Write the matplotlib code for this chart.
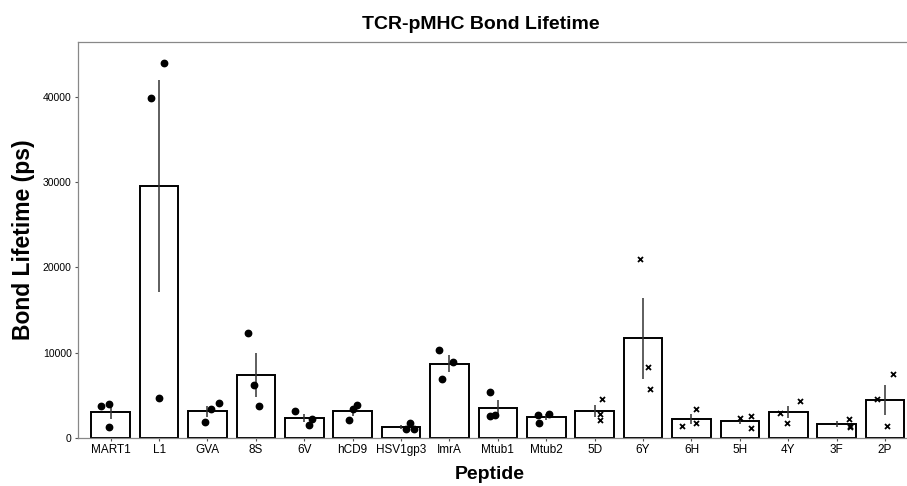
import numpy as np
import matplotlib
matplotlib.use("Agg")
import matplotlib.pyplot as plt

plt.rcParams['font.family'] = ['Liberation Sans', 'DejaVu Sans']

peptides = ["MART1", "L1", "GVA", "8S", "6V", "hCD9", "HSV1gp3", "ImrA", "Mtub1",
            "Mtub2", "5D", "6Y", "6H", "5H", "4Y", "3F", "2P"]

# three replicate lifetimes (ps) per peptide
reps = [
    [3790, 4030, 1290],
    [39900, 44050, 4700],
    [1910, 3370, 4070],
    [12360, 6180, 3720],
    [3130, 2230, 1490],
    [2110, 3440, 3910],
    [1090, 1800, 1020],
    [10330, 8960, 6890],
    [5360, 2580, 2740],
    [2700, 2850, 1720],
    [4580, 2780, 2110],
    [8330, 5710, 21000],
    [1450, 3370, 1720],
    [2310, 2580, 1170],
    [2900, 1800, 4300],
    [2270, 1410, 1250],
    [4540, 7510, 1410],
]
# horizontal jitter of each dot (category units)
jitter = [
    [-0.19, -0.03, -0.04],
    [-0.16, 0.10, 0.00],
    [-0.05, 0.07, 0.23],
    [-0.17, -0.03, 0.06],
    [-0.19, 0.17, 0.10],
    [-0.08, 0.00, 0.08],
    [0.10, 0.18, 0.27],
    [-0.22, 0.08, -0.16],
    [-0.17, -0.17, -0.06],
    [-0.17, 0.05, -0.14],
    [0.16, 0.10, 0.10],
    [0.11, 0.15, -0.06],
    [-0.20, 0.09, 0.09],
    [0.00, 0.24, 0.22],
    [-0.18, -0.03, 0.25],
    [0.25, 0.27, 0.28],
    [-0.17, 0.16, 0.05],
]
n_native = 10  # first ten drawn as dots, the rest as crosses

vals = np.array(reps, dtype=float)
means = vals.mean(axis=1)
sems = vals.std(axis=1, ddof=1) / np.sqrt(vals.shape[1])
x = np.arange(len(peptides))

fig = plt.figure(figsize=(9.07, 4.86), dpi=100)
# panel runs past the right edge, like the cropped original
ax = fig.add_axes([0.086, 0.099, 0.9325, 0.815])

ax.bar(x, means, width=0.8, color="white", edgecolor="black", linewidth=1.4, zorder=1)
ax.errorbar(x, means, yerr=sems, fmt="none", ecolor="#333333", elinewidth=1.1,
            capsize=0, zorder=2)
for i in range(len(peptides)):
    xi = x[i] + np.array(jitter[i])
    if i < n_native:
        ax.plot(xi, vals[i], "o", color="black", markersize=4.6, linestyle="none", zorder=3)
    else:
        ax.plot(xi, vals[i], "x", color="black", markersize=3.6, markeredgewidth=1.3,
                linestyle="none", zorder=3)

ax.set_xlim(-0.675, 16.8)
ax.set_ylim(0, 46480)
ax.set_xticks(x)
ax.set_xticklabels(peptides, fontsize=8.5)
ax.set_yticks([0, 10000, 20000, 30000, 40000])
ax.tick_params(axis="y", labelsize=7.5, length=2.5, color="#555555", pad=2)
ax.tick_params(axis="x", length=2.5, color="#555555", pad=2)
for s in ax.spines.values():
    s.set_color("#888888")
    s.set_linewidth(0.9)

ax.set_title("TCR-pMHC Bond Lifetime", fontsize=14, fontweight="bold", pad=9,
             x=0.476)
ax.set_xlabel("Peptide", fontsize=14, fontweight="bold")
ax.xaxis.set_label_coords(0.487, -0.07)
ax.set_ylabel("Bond Lifetime (ps)", fontsize=16.5, fontweight="bold", labelpad=6)

fig.savefig("out.png", dpi=100)
